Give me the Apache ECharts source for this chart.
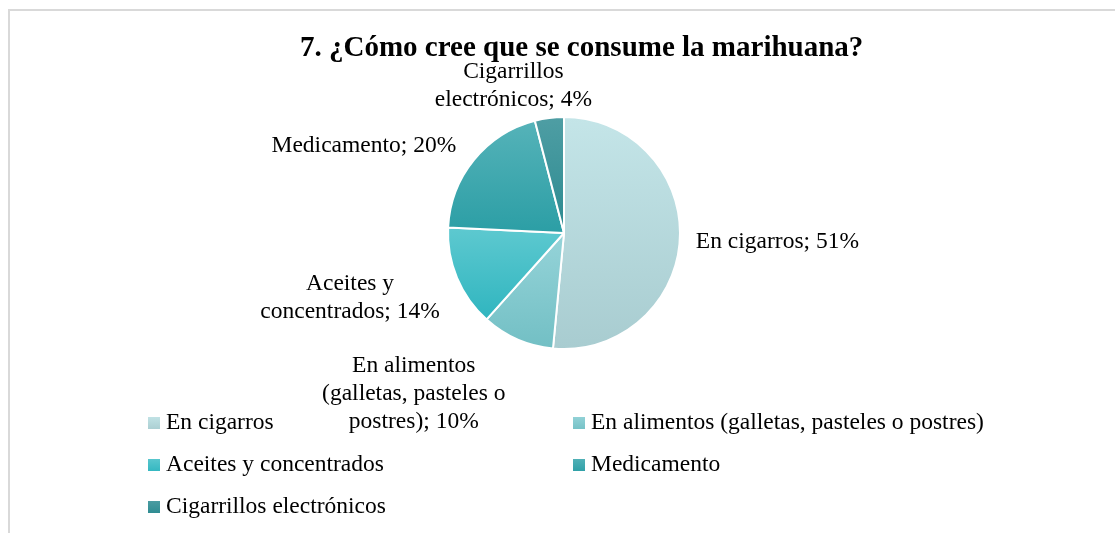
<!DOCTYPE html>
<html>
<head>
<meta charset="utf-8">
<script src="https://cdn.jsdelivr.net/npm/echarts@6/dist/echarts.min.js"></script>
<style>
  html, body { margin: 0; padding: 0; background: #ffffff; }
  #frame { position: absolute; left: 8px; top: 9px; right: -4px; bottom: -4px;
           border-left: 2px solid #d9d9d9; border-top: 2px solid #d9d9d9; }
  #chart { position: absolute; left: 0; top: 0; width: 1115px; height: 533px; }
</style>
</head>
<body>
<div id="frame"></div>
<div id="chart"></div>
<script>
// Survey answers: how marijuana is believed to be consumed (share of respondents, %)
const categories = [
  'En cigarros',
  'En alimentos (galletas, pasteles o postres)',
  'Aceites y concentrados',
  'Medicamento',
  'Cigarrillos electrónicos'
];
const shares = [51, 10, 14, 20, 4];
// Category names broken into lines for the data labels
const labelNames = [
  'En cigarros',
  'En alimentos\n(galletas, pasteles o\npostres)',
  'Aceites y\nconcentrados',
  'Medicamento',
  'Cigarrillos\nelectrónicos'
];

// Slice fills: top and bottom stops of a vertical gradient
const sliceTop    = ['#c4e5e8', '#96d4d9', '#5ec9d0', '#56b3b9', '#4f9ea4'];
const sliceBottom = ['#a8ccd0', '#72bfc4', '#2fb5bf', '#2b9ea5', '#2b8a90'];
// Fine placement of each data label relative to its default outside spot
const labelNudge = [[1, 3], [-3, 45], [-3, 16.5], [-5, -7.5], [49, -22.5]];

const FONT = "'Liberation Serif', 'Times New Roman', serif";

function gradient(i) {
  return new echarts.graphic.LinearGradient(0, 0, 0, 1, [
    { offset: 0, color: sliceTop[i] },
    { offset: 1, color: sliceBottom[i] }
  ]);
}

const chart = echarts.init(document.getElementById('chart'), null, { renderer: 'canvas' });

chart.setOption({
  backgroundColor: 'transparent',
  animation: false,
  title: {
    text: '7. ¿Cómo cree que se consume la marihuana?',
    left: 295,
    top: 29,
    textStyle: { fontFamily: FONT, fontSize: 29, fontWeight: 'bold', color: '#000000' }
  },
  legend: {
    left: 146,
    top: 406,
    width: 880,
    padding: 0,
    orient: 'horizontal',
    icon: 'rect',
    itemWidth: 14,
    itemHeight: 14,
    itemGap: 8,
    selectedMode: false,
    data: categories,
    textStyle: { fontFamily: FONT, fontSize: 23.5, color: '#000000', width: 397, lineHeight: 34 }
  },
  series: [{
    type: 'pie',
    center: [564, 233],
    radius: 116,
    startAngle: 90,
    clockwise: true,
    avoidLabelOverlap: false,
    itemStyle: { borderColor: '#ffffff', borderWidth: 2 },
    label: {
      show: true,
      position: 'outside',
      fontFamily: FONT,
      fontSize: 23.5,
      lineHeight: 28,
      color: '#000000',
      formatter: p => labelNames[p.dataIndex] + '; ' + p.value + '%'
    },
    labelLine: { show: false, length: 10, length2: 0 },
    labelLayout: function (p) {
      const n = labelNudge[p.dataIndex];
      return {
        x: p.labelRect.x + p.labelRect.width / 2 + n[0],
        y: p.labelRect.y + p.labelRect.height / 2 + n[1],
        align: 'center',
        verticalAlign: 'middle'
      };
    },
    emphasis: { disabled: true },
    data: categories.map((name, i) => ({
      name: name,
      value: shares[i],
      itemStyle: { color: gradient(i) }
    }))
  }]
});
</script>
</body>
</html>
